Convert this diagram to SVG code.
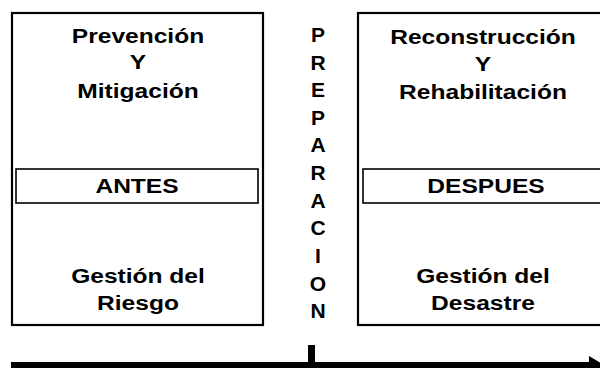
<svg xmlns="http://www.w3.org/2000/svg" width="600" height="368" viewBox="0 0 600 368">
<style>
.box{fill:#fff;stroke:#000;stroke-width:2.2}
.tag{fill:#fff;stroke:#000;stroke-width:1.6}
.t{font-family:"Liberation Sans",Arial,sans-serif;font-weight:bold;font-size:21px;fill:#000;text-anchor:middle}
</style>
<rect width="600" height="368" fill="#fff"/>
<g id="antes">
<rect class="box" x="12" y="13" width="251" height="312"/>
<g transform="translate(138,0) scale(1.17,1)">
<text class="t" x="0" y="43">Prevención</text>
<text class="t" x="0" y="69">Y</text>
<text class="t" x="0" y="98">Mitigación</text>
<text class="t" x="0" y="283">Gestión del</text>
<text class="t" x="0" y="310">Riesgo</text>
</g>
<rect class="tag" x="16" y="169" width="242" height="34"/>
<text class="t" transform="translate(137,193) scale(1.17,1)">ANTES</text>
</g>
<g id="despues">
<rect class="box" x="358" y="13" width="250" height="312"/>
<g transform="translate(483,0) scale(1.17,1)">
<text class="t" x="0" y="44">Reconstrucción</text>
<text class="t" x="0" y="71">Y</text>
<text class="t" x="0" y="99">Rehabilitación</text>
<text class="t" x="0" y="283">Gestión del</text>
<text class="t" x="0" y="310">Desastre</text>
</g>
<rect class="tag" x="363" y="169" width="245" height="34"/>
<text class="t" transform="translate(486,193) scale(1.17,1)">DESPUES</text>
</g>
<g id="preparacion">
<text class="t" x="318" y="42">P</text>
<text class="t" x="318" y="70">R</text>
<text class="t" x="318" y="97">E</text>
<text class="t" x="318" y="125">P</text>
<text class="t" x="318" y="152">A</text>
<text class="t" x="318" y="180">R</text>
<text class="t" x="318" y="208">A</text>
<text class="t" x="318" y="235">C</text>
<text class="t" x="318" y="263">I</text>
<text class="t" x="318" y="291">O</text>
<text class="t" x="318" y="318">N</text>
</g>
<g id="connectors">
<rect x="11" y="362" width="580" height="8" fill="#000"/>
<polygon points="589,356 606,366 589,376" fill="#000"/>
<rect x="308" y="345" width="7" height="18" fill="#000"/>
</g>
</svg>
